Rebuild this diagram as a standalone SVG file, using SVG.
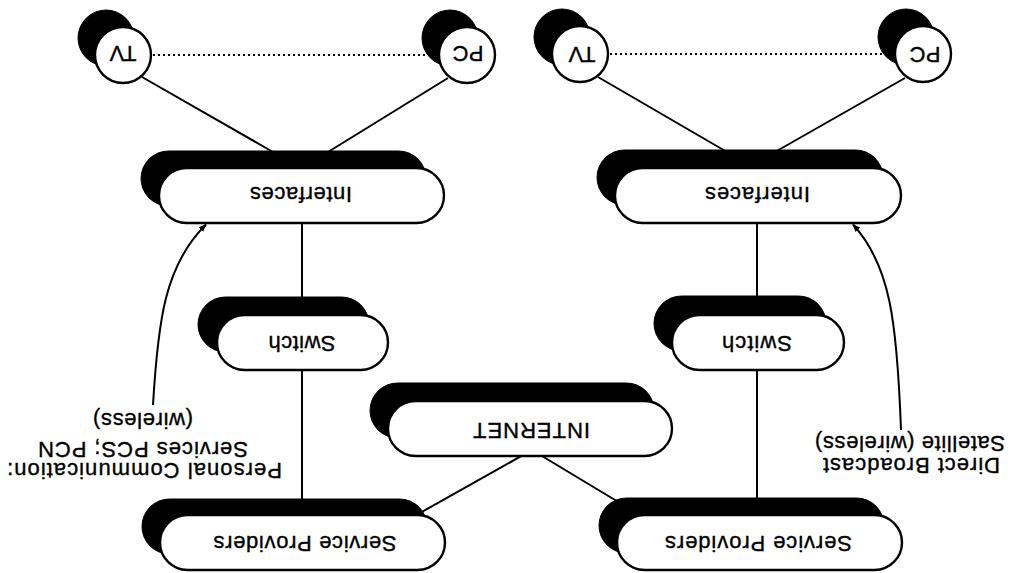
<svg xmlns="http://www.w3.org/2000/svg" width="1010" height="573" viewBox="0 0 1010 573">
<defs>
<style>
.bg{fill:#ffffff}
.sh{fill:#000000;stroke:#000000;stroke-width:1}
.fg{fill:#ffffff;stroke:#000000;stroke-width:2.4}
.ln{fill:none;stroke:#000000;stroke-width:2}
.dot{fill:none;stroke:#000000;stroke-width:1.8;stroke-dasharray:2 3}
.t{font-family:"Liberation Sans",Arial,Helvetica,sans-serif;font-size:22px;fill:#000000;stroke:#000000;stroke-width:0.35;text-anchor:middle}
</style>
<marker id="ah" viewBox="0 0 10 10" refX="9" refY="5" markerWidth="8" markerHeight="8" markerUnits="userSpaceOnUse" orient="auto">
<path d="M0,1 L10,5 L0,9 Z" fill="#000000"/>
</marker>
</defs>
<rect class="bg" x="0" y="0" width="1010" height="573"/>
<g id="connectors">
<line class="dot" x1="123" y1="55" x2="467" y2="55"/>
<line class="dot" x1="580" y1="54" x2="923" y2="54"/>
<line class="ln" x1="142" y1="77" x2="273" y2="152"/>
<line class="ln" x1="448" y1="78" x2="328" y2="152"/>
<line class="ln" x1="598" y1="77" x2="727" y2="152"/>
<line class="ln" x1="905" y1="78" x2="775" y2="152"/>
<line class="ln" x1="302" y1="220" x2="302" y2="320"/>
<line class="ln" x1="302" y1="365" x2="302" y2="520"/>
<line class="ln" x1="757" y1="220" x2="757" y2="320"/>
<line class="ln" x1="757" y1="365" x2="757" y2="520"/>
<line class="ln" x1="532" y1="450" x2="420" y2="513"/>
<line class="ln" x1="532" y1="450" x2="620" y2="503"/>
<path class="ln" d="M153,405 C158,320 165,265 206,224.5" marker-end="url(#ah)"/>
<path class="ln" d="M901,430 C897,320 890,265 853,224.5" marker-end="url(#ah)"/>
</g>
<g id="tv-left">
<circle class="sh" cx="106" cy="38" r="28"/>
<circle class="fg" cx="123" cy="55" r="28"/>
<text class="t" x="123" y="61.9" textLength="27" lengthAdjust="spacing" transform="rotate(180 123 54)">TV</text>
</g>
<g id="pc-left">
<circle class="sh" cx="450" cy="38" r="28"/>
<circle class="fg" cx="467" cy="55" r="28"/>
<text class="t" x="468" y="61.9" textLength="31" lengthAdjust="spacing" transform="rotate(180 468 54)">PC</text>
</g>
<g id="tv-right">
<circle class="sh" cx="562" cy="37" r="28"/>
<circle class="fg" cx="580" cy="54" r="28"/>
<text class="t" x="582" y="62.4" textLength="27" lengthAdjust="spacing" transform="rotate(180 582 54.5)">TV</text>
</g>
<g id="pc-right">
<circle class="sh" cx="906" cy="37" r="28"/>
<circle class="fg" cx="923" cy="54" r="28"/>
<text class="t" x="925" y="62.4" textLength="31" lengthAdjust="spacing" transform="rotate(180 925 54.5)">PC</text>
</g>
<g id="interfaces-left">
<rect class="sh" x="141" y="151" width="285" height="55" rx="27.5"/>
<rect class="fg" x="159" y="168" width="285" height="55" rx="27.5"/>
<text class="t" x="301" y="202.9" textLength="102" lengthAdjust="spacing" transform="rotate(180 301 195)">Interfaces</text>
</g>
<g id="interfaces-right">
<rect class="sh" x="597" y="150" width="286" height="55" rx="27.5"/>
<rect class="fg" x="615" y="168" width="286" height="55" rx="27.5"/>
<text class="t" x="757.5" y="202.9" textLength="105" lengthAdjust="spacing" transform="rotate(180 757.5 195)">Interfaces</text>
</g>
<g id="switch-left">
<rect class="sh" x="198" y="297" width="171" height="55" rx="27.5"/>
<rect class="fg" x="217" y="315" width="171" height="55" rx="27.5"/>
<text class="t" x="302" y="351.9" textLength="67" lengthAdjust="spacing" transform="rotate(180 302 344)">Switch</text>
</g>
<g id="switch-right">
<rect class="sh" x="654" y="296" width="172" height="55" rx="27.5"/>
<rect class="fg" x="672" y="315" width="172" height="55" rx="27.5"/>
<text class="t" x="757" y="351.9" textLength="70" lengthAdjust="spacing" transform="rotate(180 757 344)">Switch</text>
</g>
<g id="internet">
<rect class="sh" x="370" y="383" width="284" height="55" rx="27.5"/>
<rect class="fg" x="388" y="401" width="284" height="55" rx="27.5"/>
<text class="t" x="531.5" y="438.9" textLength="117" lengthAdjust="spacing" transform="rotate(180 531.5 431)">INTERNET</text>
</g>
<g id="providers-left">
<rect class="sh" x="142" y="499" width="285" height="55" rx="27.5"/>
<rect class="fg" x="160" y="515" width="285" height="55" rx="27.5"/>
<text class="t" x="305" y="551.9" textLength="183" lengthAdjust="spacing" transform="rotate(180 305 544)">Service Providers</text>
</g>
<g id="providers-right">
<rect class="sh" x="599" y="498" width="285" height="55" rx="27.5"/>
<rect class="fg" x="617" y="515" width="285" height="55" rx="27.5"/>
<text class="t" x="758.5" y="551.9" textLength="187" lengthAdjust="spacing" transform="rotate(180 758.5 544)">Service Providers</text>
</g>
<g id="label-pcs">
<text class="t" x="144.5" y="478.9" textLength="275" lengthAdjust="spacing" transform="rotate(180 144.5 471)">Personal Communication:</text>
<text class="t" x="143" y="457.4" textLength="210" lengthAdjust="spacing" transform="rotate(180 143 449.5)">Services PCS; PCN</text>
<text class="t" x="143" y="428.4" textLength="100" lengthAdjust="spacing" transform="rotate(180 143 420.5)">(wireless)</text>
</g>
<g id="label-dbs">
<text class="t" x="911.5" y="473.9" textLength="177" lengthAdjust="spacing" transform="rotate(180 911.5 466)">Direct Broadcast</text>
<text class="t" x="910" y="451.9" textLength="190" lengthAdjust="spacing" transform="rotate(180 910 444)">Satellite (wireless)</text>
</g>
</svg>
